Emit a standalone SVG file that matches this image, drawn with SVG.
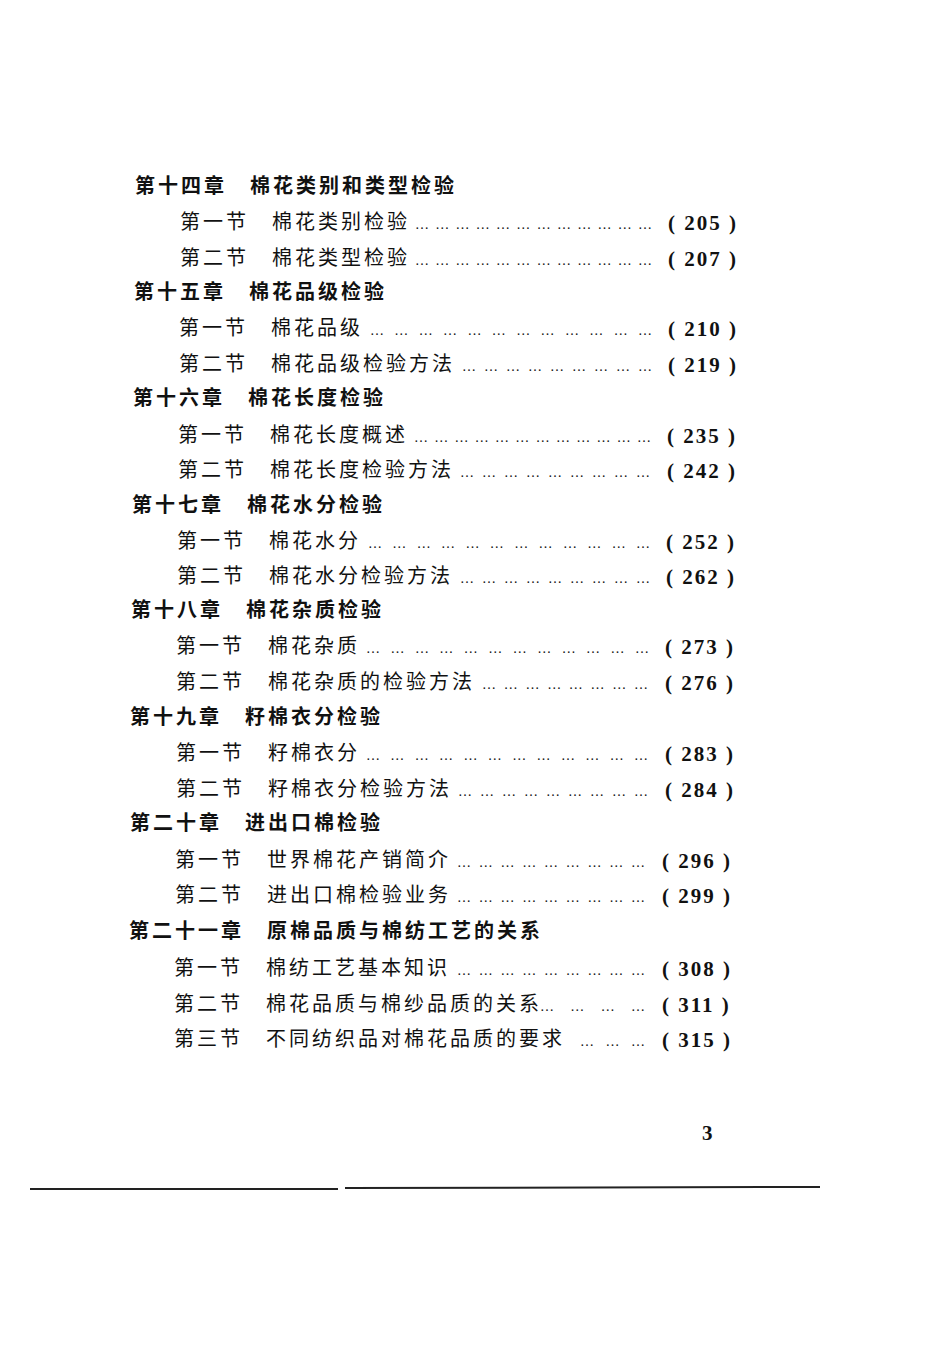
<svg xmlns="http://www.w3.org/2000/svg" width="950" height="1345" viewBox="0 0 950 1345">
<style>
text{font-family:"Noto Sans CJK SC","Liberation Serif",serif;fill:#111;font-size:20px;letter-spacing:3px}
.ch{font-weight:bold}
.dots{font-family:"Liberation Serif",serif;font-size:14px;letter-spacing:0}
.pg{font-family:"Liberation Serif",serif;font-weight:bold;font-size:21px;letter-spacing:2px}
</style>
<rect width="950" height="1345" fill="#fff"/>
<g id="ch14"><text class="ch" x="135" y="193">第十四章　棉花类别和类型检验</text>
<text x="180" y="229">第一节　棉花类别检验</text><text class="dots" x="415" y="229" textLength="237" lengthAdjust="spacing">………………………………</text><text class="pg" x="668" y="230">( 205 )</text>
<text x="180" y="265">第二节　棉花类型检验</text><text class="dots" x="415" y="265" textLength="237" lengthAdjust="spacing">………………………………</text><text class="pg" x="668" y="266">( 207 )</text></g>
<g id="ch15"><text class="ch" x="134" y="299">第十五章　棉花品级检验</text>
<text x="179" y="335">第一节　棉花品级</text><text class="dots" x="370" y="335" textLength="282" lengthAdjust="spacing">………………………………</text><text class="pg" x="668" y="336">( 210 )</text>
<text x="179" y="371">第二节　棉花品级检验方法</text><text class="dots" x="462" y="371" textLength="190" lengthAdjust="spacing">………………………</text><text class="pg" x="668" y="372">( 219 )</text></g>
<g id="ch16"><text class="ch" x="133" y="405">第十六章　棉花长度检验</text>
<text x="178" y="442">第一节　棉花长度概述</text><text class="dots" x="414" y="442" textLength="237" lengthAdjust="spacing">………………………………</text><text class="pg" x="667" y="443">( 235 )</text>
<text x="178" y="477">第二节　棉花长度检验方法</text><text class="dots" x="460" y="477" textLength="190" lengthAdjust="spacing">………………………</text><text class="pg" x="667" y="478">( 242 )</text></g>
<g id="ch17"><text class="ch" x="132" y="512">第十七章　棉花水分检验</text>
<text x="177" y="548">第一节　棉花水分</text><text class="dots" x="368" y="548" textLength="282" lengthAdjust="spacing">………………………………</text><text class="pg" x="666" y="549">( 252 )</text>
<text x="177" y="583">第二节　棉花水分检验方法</text><text class="dots" x="460" y="583" textLength="190" lengthAdjust="spacing">………………………</text><text class="pg" x="666" y="584">( 262 )</text></g>
<g id="ch18"><text class="ch" x="131" y="617">第十八章　棉花杂质检验</text>
<text x="176" y="653">第一节　棉花杂质</text><text class="dots" x="366" y="653" textLength="283" lengthAdjust="spacing">………………………………</text><text class="pg" x="665" y="654">( 273 )</text>
<text x="176" y="689">第二节　棉花杂质的检验方法</text><text class="dots" x="482" y="689" textLength="166" lengthAdjust="spacing">……………………</text><text class="pg" x="665" y="690">( 276 )</text></g>
<g id="ch19"><text class="ch" x="130" y="724">第十九章　籽棉衣分检验</text>
<text x="176" y="760">第一节　籽棉衣分</text><text class="dots" x="366" y="760" textLength="282" lengthAdjust="spacing">………………………………</text><text class="pg" x="665" y="761">( 283 )</text>
<text x="176" y="796">第二节　籽棉衣分检验方法</text><text class="dots" x="458" y="796" textLength="190" lengthAdjust="spacing">………………………</text><text class="pg" x="665" y="797">( 284 )</text></g>
<g id="ch20"><text class="ch" x="130" y="830">第二十章　进出口棉检验</text>
<text x="175" y="867">第一节　世界棉花产销简介</text><text class="dots" x="457" y="867" textLength="188" lengthAdjust="spacing">………………………</text><text class="pg" x="662" y="868">( 296 )</text>
<text x="175" y="902">第二节　进出口棉检验业务</text><text class="dots" x="457" y="902" textLength="188" lengthAdjust="spacing">………………………</text><text class="pg" x="662" y="903">( 299 )</text></g>
<g id="ch21"><text class="ch" x="129" y="938">第二十一章　原棉品质与棉纺工艺的关系</text>
<text x="174" y="975">第一节　棉纺工艺基本知识</text><text class="dots" x="457" y="975" textLength="188" lengthAdjust="spacing">………………………</text><text class="pg" x="662" y="976">( 308 )</text>
<text x="174" y="1011">第二节　棉花品质与棉纱品质的关系</text><text class="dots" x="540" y="1011" textLength="105" lengthAdjust="spacing">…………</text><text class="pg" x="662" y="1012">( 311 )</text>
<text x="174" y="1046">第三节　不同纺织品对棉花品质的要求</text><text class="dots" x="580" y="1046" textLength="65" lengthAdjust="spacing">………</text><text class="pg" x="662" y="1047">( 315 )</text></g>
<text class="pg" x="702" y="1140">3</text>
<g id="connectors"><line x1="30" y1="1189" x2="338" y2="1189" stroke="#222" stroke-width="2"/><line x1="345" y1="1188" x2="820" y2="1187" stroke="#222" stroke-width="2"/></g>
</svg>
